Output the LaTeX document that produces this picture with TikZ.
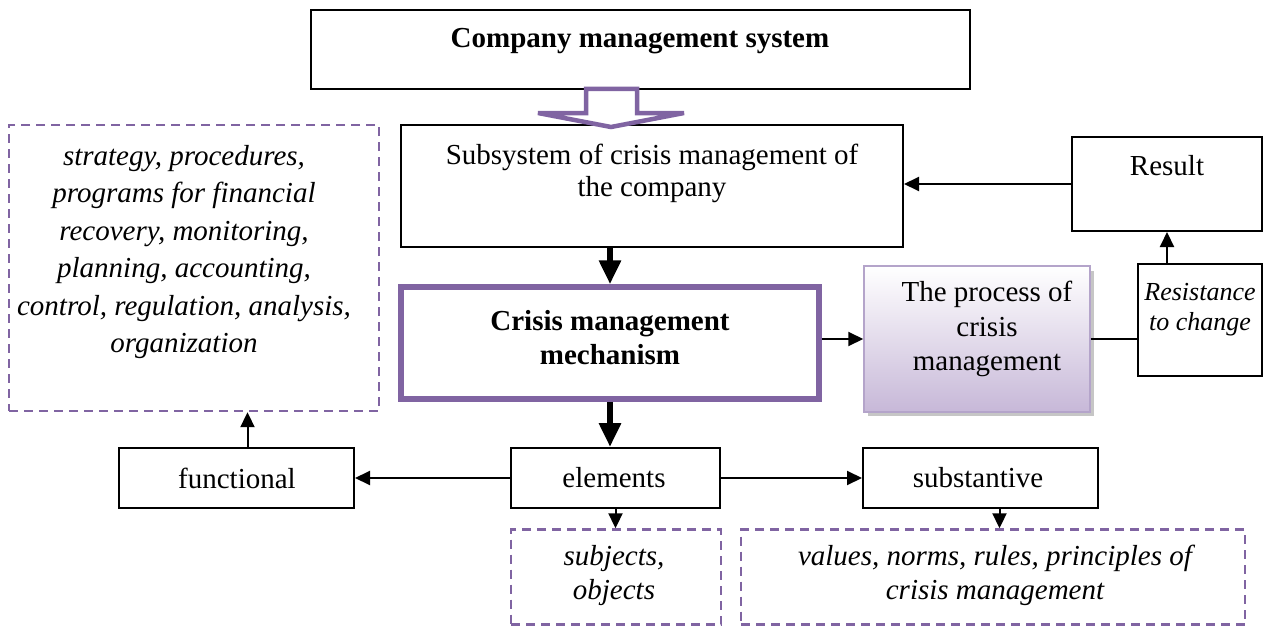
\documentclass[tikz,border=0pt]{standalone}
\usepackage{fontspec}
\setmainfont{Liberation Serif}
\usetikzlibrary{arrows.meta,calc}
\definecolor{mechpurple}{HTML}{8064A2}
\definecolor{procborder}{HTML}{B4A4CA}
\definecolor{procbottom}{HTML}{C7B8D8}
\begin{document}
\begin{tikzpicture}[x=1pt,y=-1pt,
  txt/.style={font=\fontsize{29}{36}\selectfont, align=center, inner sep=0pt},
  box/.style={draw=black, line width=2pt, fill=white, inner sep=0pt},
  dbox/.style={draw=mechpurple, line width=2.4pt, dash pattern=on 9pt off 6pt, fill=white, inner sep=0pt},
  thinarrow/.style={line width=2pt, -{Triangle[length=15pt,width=14pt]}},
  thickarrow/.style={line width=6.5pt, -{Triangle[length=24pt,width=21pt]}},
  plainline/.style={line width=2pt}]
\useasboundingbox (0,0) rectangle (1267,626);

% boxes
\node[box, minimum width=659pt, minimum height=79pt] (cms) at (640.5,49.5) {};
\node[box, minimum width=502pt, minimum height=122pt] (sub) at (652,186) {};
\node[box, minimum width=190pt, minimum height=94pt] (result) at (1167,184) {};
\node[box, minimum width=124pt, minimum height=112pt] (resist) at (1200,320) {};
\fill[gray!45] (868,271) rectangle (1094,416);
\node[draw=procborder, line width=1.5pt, top color=white, bottom color=procbottom,
      minimum width=226pt, minimum height=146pt, inner sep=0pt] (proc) at (977,339) {};
\node[draw=mechpurple, line width=5.5pt, fill=white, minimum width=418pt,
      minimum height=112pt, inner sep=0pt] (mech) at (610,343) {};
\node[box, minimum width=209pt, minimum height=60pt] (elem) at (615.5,478) {};
\node[box, minimum width=235pt, minimum height=60pt] (func) at (236.5,478) {};
\node[box, minimum width=235pt, minimum height=60pt] (subst) at (980.5,478) {};
\node[dbox, minimum width=370pt, minimum height=286pt] (tools) at (194,268) {};
\node[dbox, minimum width=210pt, minimum height=95pt] (subj) at (616,577) {};
\node[dbox, minimum width=504pt, minimum height=95pt] (values) at (993,577) {};

% texts
\node[txt, font=\fontsize{29}{36}\selectfont\bfseries] (cmsT) at (640,41) {Company management system};
\node[txt, font=\fontsize{29}{32}\selectfont] (subT) at (652,173) {Subsystem of crisis management of\\the company};
\node[txt] (resultT) at (1167,166) {Result};
\node[txt, font=\fontsize{26}{30}\selectfont\itshape] (resistT) at (1200,310) {Resistance\\to change};
\node[txt, font=\fontsize{29}{34.5}\selectfont] (procT) at (987,329) {The process of\\crisis\\management};
\node[txt, font=\fontsize{29}{34}\selectfont\bfseries] (mechT) at (610,338) {Crisis management\\mechanism};
\node[txt] (elemT) at (614,478) {elements};
\node[txt] (funcT) at (237,478) {functional};
\node[txt] (substT) at (978,478) {substantive};
\node[txt, font=\fontsize{29}{37.5}\selectfont\itshape] (toolsT) at (184,252)
  {strategy, procedures,\\programs for financial\\recovery, monitoring,\\planning, accounting,\\control, regulation, analysis,\\organization};
\node[txt, font=\fontsize{29}{34}\selectfont\itshape] (subjT) at (614,576) {subjects,\\objects};
\node[txt, font=\fontsize{29}{34}\selectfont\itshape] (valuesT) at (995,575) {values, norms, rules, principles of\\crisis management};

% hollow block arrow between the two top levels
\draw[draw=mechpurple, fill=white, line width=4.5pt, line join=miter]
  (586,89) -- (637,89) -- (637,113) -- (684,113) -- (611,127)
  -- (538,113) -- (586,113) -- cycle;

% connectors
\draw[thinarrow] (result.west) -- (result.west -| sub.east);
\draw[thinarrow] (resist.north -| result.south) -- (result.south);
\draw[plainline] (proc.east) -- (proc.east -| resist.west);
\draw[thinarrow] (proc.west -| mech.east) -- (proc.west);
\draw[thickarrow] (mech.north |- sub.south) -- (mech.north);
\draw[thickarrow] (mech.south) -- (mech.south |- elem.north);
\draw[thinarrow] (elem.west) -- (func.east);
\draw[thinarrow] (elem.east) -- (subst.west);
\draw[thinarrow] ([xshift=11pt]func.north) -- ([xshift=11pt]func.north |- tools.south);
\draw[thinarrow] (elem.south) -- (elem.south |- subj.north);
\draw[thinarrow] ([xshift=19pt]subst.south) -- ([xshift=19pt]subst.south |- values.north);
\end{tikzpicture}
\end{document}
